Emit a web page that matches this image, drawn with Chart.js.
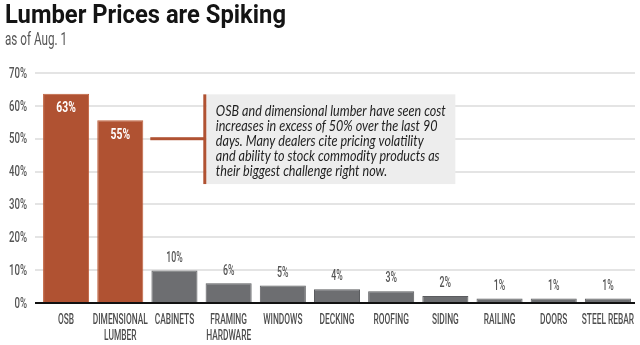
<!DOCTYPE html>
<html><head><meta charset="utf-8">
<script src="https://cdn.jsdelivr.net/npm/chart.js@4/dist/chart.umd.min.js"></script>
<style>html,body{margin:0;padding:0;background:#fff}#wrap{width:640px;height:345px}</style>
</head><body><div id="wrap"><canvas id="c" width="640" height="345"></canvas></div>
<script>
const categories = [['OSB'], ['DIMENSIONAL','LUMBER'], ['CABINETS'], ['FRAMING','HARDWARE'], ['WINDOWS'], ['DECKING'], ['ROOFING'], ['SIDING'], ['RAILING'], ['DOORS'], ['STEEL REBAR']];
const values = [63.7, 55.6, 9.9, 6.0, 5.3, 4.2, 3.6, 2.1, 1.4, 1.4, 1.4];
const valueLabels = ['63%','55%','10%','6%','5%','4%','3%','2%','1%','1%','1%'];
const highlighted = [true, true, false, false, false, false, false, false, false, false, false];
const yTicks = [0, 10, 20, 30, 40, 50, 60, 70];
const titleText = 'Lumber Prices are Spiking';
const subtitleText = 'as of Aug. 1';
const noteLines = ['OSB and dimensional lumber have seen cost','increases in excess of 50% over the last 90','days. Many dealers cite pricing volatility','and ability to stock commodity products as','their biggest challenge right now.'];

const ORANGE = '#b05232', GRAY = '#6d6e71';
const SANS = 'Roboto, "DejaVu Sans", sans-serif';

function squeezeText(ctx, text, x, y, s) {
  ctx.save(); ctx.translate(x, y); ctx.scale(s, 1); ctx.fillText(text, 0, 0); ctx.restore();
}
function scaleFor(ctx, ref, w) { return w / ctx.measureText(ref).width; }

const decor = {
  id: 'decor',
  afterDraw(chart) {
    const ctx = chart.ctx, xs = chart.scales.x, ys = chart.scales.y;
    ctx.save();
    // title
    ctx.fillStyle = '#141414'; ctx.textBaseline = 'alphabetic'; ctx.textAlign = 'left';
    ctx.font = 'bold 25px ' + SANS;
    squeezeText(ctx, titleText, 5, 23, scaleFor(ctx, titleText, 281));
    ctx.fillStyle = '#555'; ctx.font = '18px ' + SANS;
    squeezeText(ctx, subtitleText, 5, 45, scaleFor(ctx, subtitleText, 62));

    // y tick labels (from the scale's ticks)
    ctx.font = '500 15px ' + SANS; ctx.fillStyle = '#555';
    ctx.textAlign = 'right'; ctx.textBaseline = 'middle';
    let s = scaleFor(ctx, '70%', 18);
    ys.ticks.forEach(t => {
      squeezeText(ctx, t.value + '%', chart.chartArea.left - 12, ys.getPixelForValue(t.value) + 1, s);
    });

    // x tick labels
    ctx.font = '500 14px ' + SANS; ctx.fillStyle = '#4d4d4d'; ctx.textAlign = 'center';
    s = scaleFor(ctx, 'CABINETS', 39.5);
    categories.forEach((lines, i) => {
      const x = xs.getPixelForTick(i);
      lines.forEach((ln, j) => squeezeText(ctx, ln, x, chart.chartArea.bottom + 17.5 + j * 15.5, s));
    });

    // value labels
    const meta = chart.getDatasetMeta(0);
    meta.data.forEach((bar, i) => {
      if (highlighted[i]) {
        ctx.font = 'bold 15px ' + SANS; ctx.fillStyle = '#fff';
        squeezeText(ctx, valueLabels[i], bar.x, bar.y + 14.5, scaleFor(ctx, '63%', 19.5));
      } else {
        ctx.font = '500 15px ' + SANS; ctx.fillStyle = '#555';
        squeezeText(ctx, valueLabels[i], bar.x, bar.y - 12.5, scaleFor(ctx, '10%', 16.5));
      }
    });

    // annotation
    const b1 = meta.data[1];
    const yc = ys.getPixelForValue(50);
    const top = ys.getPixelForValue(63.5), bot = ys.getPixelForValue(36.2);
    const x0 = b1.x + b1.width / 2 + 7;
    const vx = b1.x + b1.width / 2 + 61.5;
    const boxR = xs.getPixelForValue(7) + 10;
    ctx.fillStyle = '#ededed';
    ctx.fillRect(vx + 1.5, top, boxR - vx - 1.5, bot - top);
    ctx.fillStyle = ORANGE;
    ctx.fillRect(x0, yc - 1.5, vx - x0, 3);
    ctx.fillRect(vx - 1.5, top, 3, bot - top);
    ctx.fillStyle = '#1e1e1e'; ctx.textAlign = 'left'; ctx.textBaseline = 'middle';
    ctx.font = 'italic 15.5px Lato, sans-serif';
    s = scaleFor(ctx, noteLines[0], 230);
    noteLines.forEach((ln, i) => squeezeText(ctx, ln, vx + 11, top + 16.5 + i * 15, s));
    ctx.restore();
  }
};

new Chart(document.getElementById('c'), {
  type: 'bar',
  data: {
    labels: categories,
    datasets: [{
      data: values,
      backgroundColor: highlighted.map(h => h ? ORANGE : GRAY),
      borderColor: highlighted.map(h => h ? '#c0603c' : '#5b5c5f'),
      borderWidth: 1,
      barPercentage: 0.85,
      categoryPercentage: 1
    }]
  },
  options: {
    responsive: false,
    animation: false,
    layout: { padding: { top: 73, right: 5, left: 0, bottom: 0 } },
    plugins: { legend: { display: false }, tooltip: { enabled: false }, title: { display: false } },
    scales: {
      x: {
        grid: { display: false },
        border: { display: false },
        ticks: { display: false },
        afterFit: s => { s.height = 42; }
      },
      y: {
        min: 0, max: 70,
        afterBuildTicks: s => { s.ticks = yTicks.map(v => ({ value: v })); },
        grid: {
          color: c => c.tick && c.tick.value === 0 ? '#111' : '#e4e4e4',
          lineWidth: 2, tickLength: 4, drawTicks: true
        },
        border: { display: false },
        ticks: { display: false },
        afterFit: s => { s.width = 39; }
      }
    }
  },
  plugins: [decor]
});
</script></body></html>
